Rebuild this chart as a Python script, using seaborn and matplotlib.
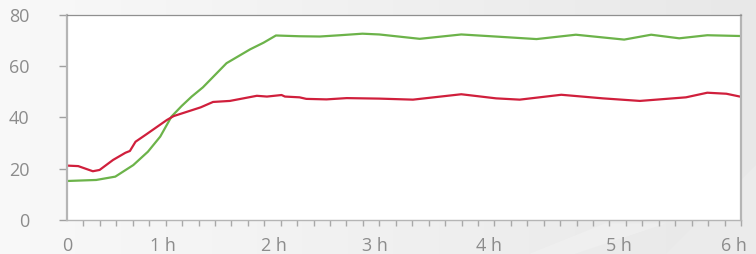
import numpy as np
import matplotlib
matplotlib.use("Agg")
import matplotlib.pyplot as plt
import seaborn as sns
import pandas as pd

# ---- data (hours, value) ----
green_t = [0.0, 0.26, 0.43, 0.59, 0.72, 0.83, 0.93, 1.02, 1.11, 1.21, 1.42, 1.63, 1.75, 1.86,
           2.07, 2.25, 2.43, 2.63, 2.78, 3.14, 3.51, 3.85, 4.18, 4.53, 4.96, 5.20, 5.45, 5.70, 5.99]
green_v = [15.2, 15.6, 16.9, 21.4, 26.6, 32.5, 40.3, 44.4, 48.1, 51.7, 61.1, 66.5, 69.1, 71.9,
           71.6, 71.5, 72.0, 72.6, 72.3, 70.6, 72.3, 71.4, 70.5, 72.2, 70.3, 72.2, 70.8, 72.0, 71.7]

red_t = [0.0, 0.10, 0.23, 0.29, 0.41, 0.52, 0.56, 0.61, 0.71, 0.89, 0.95, 1.07, 1.19, 1.30, 1.45,
         1.57, 1.69, 1.78, 1.91, 1.94, 2.07, 2.13, 2.31, 2.49, 2.78, 3.08, 3.51, 3.82, 4.03, 4.40,
         4.77, 5.10, 5.51, 5.70, 5.87, 5.99]
red_v = [21.2, 21.0, 19.0, 19.5, 23.4, 26.2, 26.9, 30.5, 33.5, 39.0, 40.5, 42.2, 43.9, 46.0, 46.4,
         47.4, 48.4, 48.1, 48.7, 48.1, 47.8, 47.2, 47.0, 47.5, 47.3, 46.9, 49.0, 47.4, 46.9, 48.8,
         47.4, 46.4, 47.8, 49.6, 49.2, 48.1]

y_ticks = [0, 20, 40, 60, 80]
x_tick_pos = [0.0, 0.85, 1.84, 2.74, 3.76, 4.91, 5.94]
x_tick_labels = ["0", "1 h", "2 h", "3 h", "4 h", "5 h", "6 h"]

GREEN = "#6cb34a"
RED = "#d01f3c"
TXT = "#8c8c8c"

sns.set_theme(style="white")
plt.rcParams["font.family"] = ["Open Sans", "DejaVu Sans"]

fig = plt.figure(figsize=(7.56, 2.54), dpi=100)

# background gradient
bg = fig.add_axes([0, 0, 1, 1], zorder=0)
grad = np.linspace(0.975, 0.91, 256)[None, :]
bg.imshow(np.dstack([grad, grad, grad]), aspect="auto", extent=[0, 1, 0, 1],
          vmin=0, vmax=1)
bg.fill([0.76, 0.88, 1.0, 1.0], [0.0, 0.0, 0.35, 0.0], color="#ebebeb", lw=0)
bg.fill([0.70, 0.76, 0.88, 0.80], [0.0, 0.0, 0.12, 0.12], color="#f2f2f2", lw=0, alpha=0.6)
bg.set_xlim(0, 1); bg.set_ylim(0, 1)
bg.axis("off")

ax = fig.add_axes([67/756, 34/254, 674/756, 205.3/254], zorder=1)
ax.set_facecolor("white")

dg = pd.DataFrame({"t": green_t, "v": green_v})
dr = pd.DataFrame({"t": red_t, "v": red_v})
sns.lineplot(data=dg, x="t", y="v", ax=ax, color=GREEN, lw=1.6)
sns.lineplot(data=dr, x="t", y="v", ax=ax, color=RED, lw=1.6)

ax.set_xlim(0, 6)
ax.set_ylim(0, 80)
ax.set_xlabel("")
ax.set_ylabel("")

ax.set_yticks(y_ticks)
ax.set_yticklabels([str(v) for v in y_ticks])
ax.set_xticks(x_tick_pos)
ax.set_xticklabels(x_tick_labels)
ax.set_xticks(np.linspace(0, 6, 42), minor=True)

ax.tick_params(axis="y", which="major", left=True, length=6, width=1, color="#a0a0a0",
               pad=21, labelsize=13, labelcolor=TXT)
ax.tick_params(axis="x", which="major", bottom=False, length=0, pad=12,
               labelsize=13, labelcolor=TXT)
ax.tick_params(axis="x", which="minor", bottom=True, length=4, width=1, color="#a8a8a8")

for s in ["left", "right", "bottom"]:
    ax.spines[s].set_color("#b5b5b5")
    ax.spines[s].set_linewidth(1.6)
ax.spines["bottom"].set_linewidth(1.0)
ax.spines["top"].set_color("#8f8f8f")
ax.spines["top"].set_linewidth(0.9)
for s in ax.spines.values():
    s.set_visible(True)

fig.savefig("out.png", dpi=100)
